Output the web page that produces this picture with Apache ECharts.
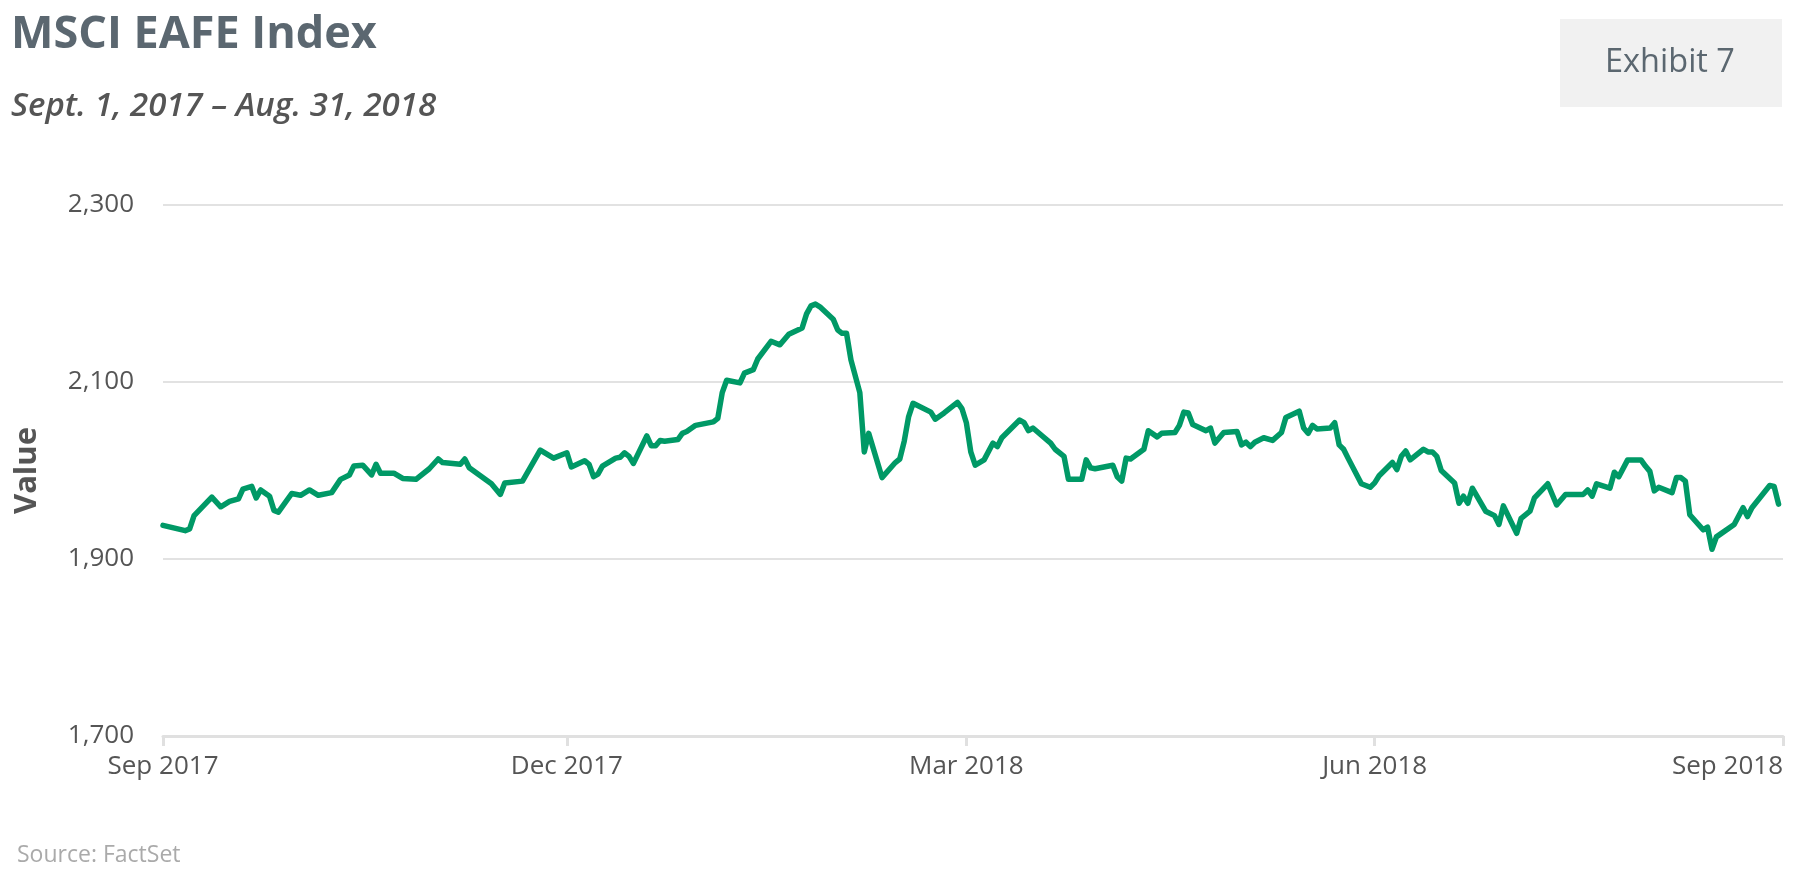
<!DOCTYPE html>
<html><head><meta charset="utf-8">
<script src="https://cdn.jsdelivr.net/npm/echarts@6/dist/echarts.min.js"></script>
<style>html,body{margin:0;padding:0;background:#fff}#chart{width:1799px;height:879px}</style>
</head><body><div id="chart"></div>
<script>
const dates = [
'2017-09-01','2017-09-06','2017-09-07','2017-09-08','2017-09-12','2017-09-14','2017-09-16','2017-09-18','2017-09-19','2017-09-21',
'2017-09-22','2017-09-23','2017-09-25','2017-09-26','2017-09-27','2017-09-30','2017-10-02','2017-10-04','2017-10-06','2017-10-09',
'2017-10-11','2017-10-13','2017-10-14','2017-10-16','2017-10-18','2017-10-19','2017-10-20','2017-10-23','2017-10-25','2017-10-28',
'2017-10-31','2017-11-02','2017-11-03','2017-11-07','2017-11-08','2017-11-09','2017-11-14','2017-11-16','2017-11-17','2017-11-21',
'2017-11-25','2017-11-28','2017-12-01','2017-12-02','2017-12-05','2017-12-06','2017-12-07','2017-12-08','2017-12-09','2017-12-12',
'2017-12-13','2017-12-14','2017-12-15','2017-12-16','2017-12-19','2017-12-20','2017-12-21','2017-12-22','2017-12-23','2017-12-26',
'2017-12-27','2017-12-28','2017-12-30','2018-01-03','2018-01-04','2018-01-05','2018-01-06','2018-01-09','2018-01-10','2018-01-11',
'2018-01-12','2018-01-13','2018-01-16','2018-01-18','2018-01-20','2018-01-23','2018-01-24','2018-01-25','2018-01-26','2018-01-27',
'2018-01-30','2018-01-31','2018-02-01','2018-02-02','2018-02-03','2018-02-05','2018-02-06','2018-02-07','2018-02-10','2018-02-13',
'2018-02-14','2018-02-15','2018-02-16','2018-02-17','2018-02-21','2018-02-22','2018-02-24','2018-02-27','2018-02-28','2018-03-01',
'2018-03-02','2018-03-03','2018-03-05','2018-03-07','2018-03-08','2018-03-09','2018-03-13','2018-03-14','2018-03-15','2018-03-16',
'2018-03-20','2018-03-21','2018-03-23','2018-03-24','2018-03-27','2018-03-28','2018-03-29','2018-03-30','2018-04-03','2018-04-04',
'2018-04-05','2018-04-06','2018-04-07','2018-04-10','2018-04-11','2018-04-13','2018-04-14','2018-04-17','2018-04-18','2018-04-19',
'2018-04-20','2018-04-21','2018-04-24','2018-04-25','2018-04-26','2018-04-28','2018-05-01','2018-05-02','2018-05-03','2018-05-04',
'2018-05-05','2018-05-07','2018-05-09','2018-05-11','2018-05-12','2018-05-15','2018-05-16','2018-05-17','2018-05-18','2018-05-19',
'2018-05-22','2018-05-23','2018-05-24','2018-05-25','2018-05-26','2018-05-29','2018-05-31','2018-06-01','2018-06-02','2018-06-05',
'2018-06-06','2018-06-07','2018-06-08','2018-06-09','2018-06-12','2018-06-13','2018-06-14','2018-06-15','2018-06-16','2018-06-19',
'2018-06-20','2018-06-21','2018-06-22','2018-06-23','2018-06-26','2018-06-28','2018-06-29','2018-06-30','2018-07-03','2018-07-04',
'2018-07-06','2018-07-07','2018-07-10','2018-07-12','2018-07-14','2018-07-18','2018-07-19','2018-07-20','2018-07-21','2018-07-24',
'2018-07-25','2018-07-26','2018-07-28','2018-07-31','2018-08-01','2018-08-02','2018-08-03','2018-08-04','2018-08-07','2018-08-08',
'2018-08-09','2018-08-10','2018-08-11','2018-08-14','2018-08-15','2018-08-16','2018-08-17','2018-08-21','2018-08-23','2018-08-24',
'2018-08-25','2018-08-29','2018-08-30','2018-08-31'
];
const values = [
1938,1932,1934,1949,1970,1959,1965,1968,1979,1982,
1969,1978,1971,1955,1953,1974,1972,1978,1972,1975,
1990,1995,2005,2006,1995,2007,1997,1997,1991,1990,
2002,2013,2009,2007,2013,2003,1985,1973,1986,1988,
2023,2014,2020,2004,2011,2007,1993,1996,2005,2014,
2015,2020,2016,2008,2039,2028,2028,2034,2033,2035,
2042,2044,2051,2055,2059,2088,2102,2099,2110,2112,
2114,2126,2146,2142,2154,2161,2177,2186,2188,2185,
2171,2159,2155,2155,2125,2088,2021,2042,1992,2009,
2013,2033,2061,2076,2066,2058,2065,2077,2070,2054,
2021,2006,2012,2031,2027,2037,2057,2054,2045,2048,
2031,2024,2016,1990,1990,2012,2003,2002,2006,1993,
1988,2014,2013,2024,2045,2038,2042,2043,2051,2066,
2065,2052,2045,2048,2031,2043,2044,2029,2032,2027,
2032,2037,2034,2043,2060,2067,2048,2042,2051,2047,
2048,2054,2029,2024,2014,1985,1981,1986,1994,2009,
2001,2016,2022,2012,2024,2021,2021,2016,2000,1986,
1963,1971,1963,1980,1954,1949,1939,1960,1929,1946,
1954,1969,1985,1961,1973,1973,1978,1971,1985,1980,
1998,1993,2012,2012,2005,1999,1977,1981,1975,1992,
1992,1988,1950,1933,1936,1911,1925,1939,1958,1948,
1958,1983,1982,1962
];
const yTicks = [1700, 1900, 2100, 2300];
const xTickDates = ['2017-09-01','2017-12-01','2018-03-01','2018-06-01','2018-09-01'];
const xTickLabels = ['Sep 2017','Dec 2017','Mar 2018','Jun 2018','Sep 2018'];
const titleText = 'MSCI EAFE Index';
const subtitleText = 'Sept. 1, 2017 \u2013 Aug. 31, 2018';
const exhibitText = 'Exhibit 7';
const sourceText = 'Source: FactSet';
const yAxisName = 'Value';

const FONT = "'Open Sans', sans-serif";
const toTime = (s) => +echarts.time.parse(s);
const tickTimes = xTickDates.map(toTime);
const seriesData = dates.map((d, i) => [toTime(d), values[i]]);

const chart = echarts.init(document.getElementById('chart'));
chart.setOption({
  animation: false,
  backgroundColor: '#fff',
  grid: { left: 163, right: 16, top: 205, bottom: 143 },
  xAxis: {
    type: 'value',
    min: tickTimes[0],
    max: tickTimes[tickTimes.length - 1],
    axisLine: { show: true, lineStyle: { color: '#e0e0e0', width: 3 } },
    axisTick: { show: true, customValues: tickTimes, length: 10, lineStyle: { color: '#e0e0e0', width: 3 } },
    axisLabel: {
      customValues: tickTimes,
      formatter: (v) => {
        let best = 0;
        tickTimes.forEach((t, i) => { if (Math.abs(t - v) < Math.abs(tickTimes[best] - v)) best = i; });
        return xTickLabels[best];
      },
      alignMaxLabel: 'right',
      color: '#555', fontSize: 26, fontFamily: FONT, margin: 18
    },
    splitLine: { show: false }
  },
  yAxis: {
    type: 'value',
    min: yTicks[0], max: yTicks[yTicks.length - 1], interval: 200,
    name: yAxisName, nameLocation: 'middle', nameGap: 120,
    nameTextStyle: { color: '#555', fontSize: 31, fontWeight: 'bold', fontFamily: FONT },
    axisLine: { show: false }, axisTick: { show: false },
    axisLabel: {
      color: '#555', fontSize: 26, fontFamily: FONT, margin: 29,
      formatter: (v) => v.toLocaleString('en-US')
    },
    splitLine: { show: true, lineStyle: { color: '#e2e2e2', width: 2 } }
  },
  series: [{
    type: 'line', data: seriesData, showSymbol: false, symbol: 'none',
    lineStyle: { color: '#009966', width: 5.5, cap: 'round', join: 'round' }
  }],
  graphic: [
    { type: 'text', x: 11, y: 35, style: { text: titleText, fontSize: 45, fontWeight: 'bold', fontFamily: FONT, fill: '#5b6770', align: 'left', verticalAlign: 'middle' } },
    { type: 'text', x: 11, y: 107, style: { text: subtitleText, fontSize: 33, fontWeight: 600, fontStyle: 'italic', fontFamily: FONT, fill: '#555555', align: 'left', verticalAlign: 'middle' } },
    { type: 'rect', shape: { x: 1560, y: 19, width: 222, height: 88 }, style: { fill: '#f1f1f1' } },
    { type: 'text', x: 1670, y: 63, style: { text: exhibitText, fontSize: 32.5, fontFamily: FONT, fill: '#5b6770', align: 'center', verticalAlign: 'middle' } },
    { type: 'text', x: 17, y: 855, style: { text: sourceText, fontSize: 23, fontFamily: FONT, fill: '#aaaaaa', align: 'left', verticalAlign: 'middle' } }
  ]
});
</script></body></html>
